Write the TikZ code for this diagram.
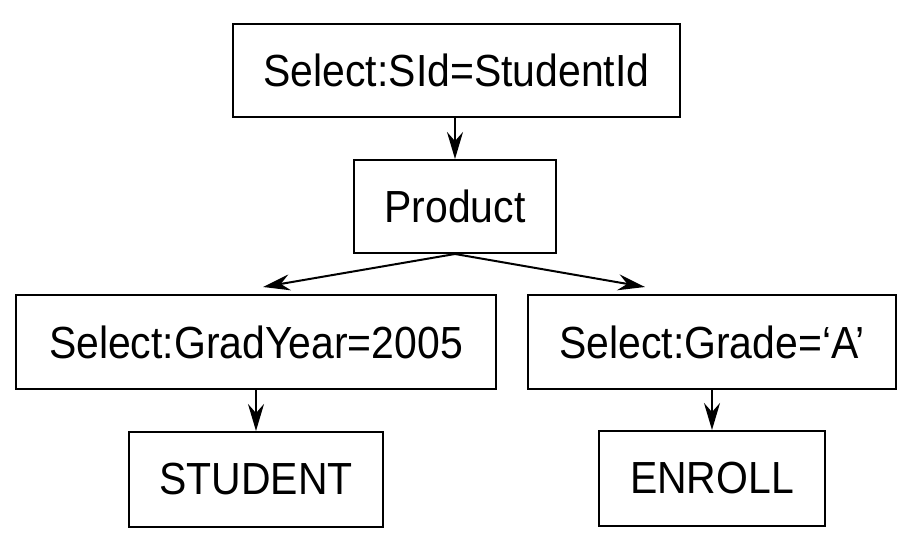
\documentclass[tikz,border=0pt]{standalone}
\usepackage{fontspec}
\setmainfont{Liberation Sans}[FakeStretch=0.91]
\usetikzlibrary{arrows.meta}

\tikzset{
  opbox/.style={draw, line width=2pt, inner sep=0pt, font=\fontsize{45}{54}\selectfont},
  edge/.style={line width=2pt, -{Stealth[length=27pt, width=16pt, inset=9pt]}}
}

\begin{document}
\begin{tikzpicture}[x=1pt, y=1pt]
      \useasboundingbox (0, 0) rectangle (916, 545) ;

      \node[opbox, minimum width=447pt, minimum height=93pt] (top) at (456.5, 474.5) {Select:SId=StudentId} ;
      \node[opbox, minimum width=202pt, minimum height=93pt] (prod) at (455, 338.5) {Product} ;
      \node[opbox, minimum width=480pt, minimum height=94pt] (selyear) at (256, 203) {Select:GradYear=2005} ;
      \node[opbox, minimum width=368pt, minimum height=94pt] (selgrade) at (712, 203) {Select:Grade=‘A’} ;
      \node[opbox, minimum width=254pt, minimum height=95pt] (student) at (256, 65.5) {STUDENT} ;
      \node[opbox, minimum width=226pt, minimum height=95pt] (enroll) at (712, 66.5) {ENROLL} ;

      \draw[edge] (prod.north |- top.south) -- (prod.north) ;
      \draw[edge] (prod.south) -- ([shift={(7pt, 7pt)}]selyear.north) ;
      \draw[edge] (prod.south) -- ([shift={(-67pt, 7pt)}]selgrade.north) ;
      \draw[edge] (selyear.south) -- (student.north) ;
      \draw[edge] (selgrade.south) -- (enroll.north) ;
    \end{tikzpicture}
\end{document}
